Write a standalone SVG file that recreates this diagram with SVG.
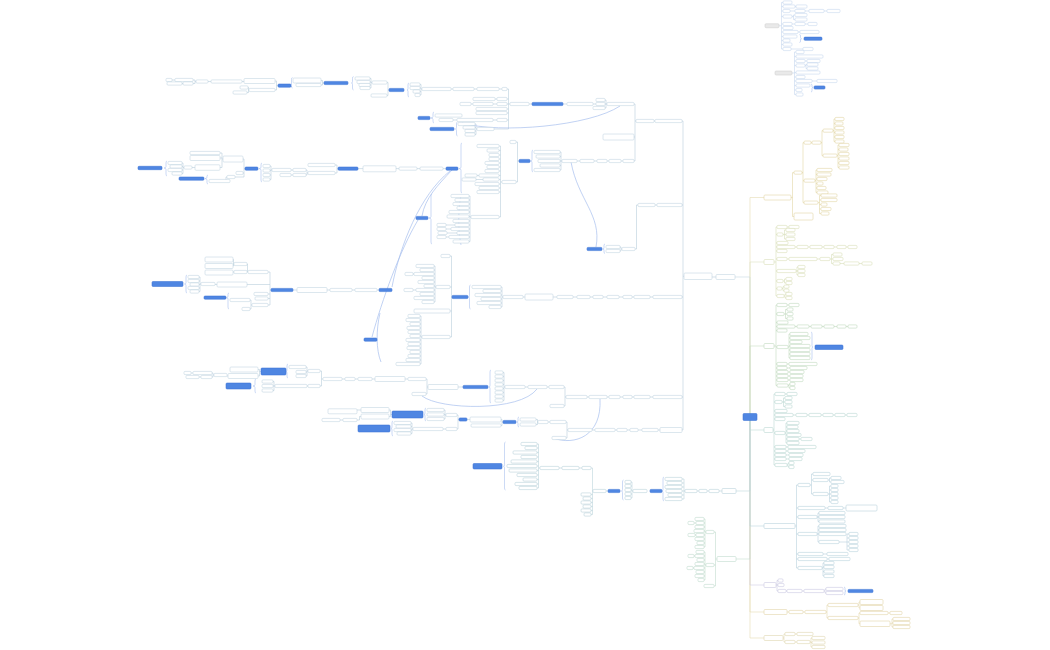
<svg xmlns="http://www.w3.org/2000/svg" width="1050" height="650" viewBox="0 0 1050 650">
<style>
rect{fill:#fff;stroke-width:.55;rx:1px}
rect.b{fill:#4f86e2;stroke:#3d73d4}
rect.g{fill:#e9e9e9;stroke:#cfcfcf}
path{fill:none;stroke-width:.6}
.br path{stroke:#a9c1ee}
.rel path{stroke:#a6bfee;stroke-width:.7}
</style>
<rect x="0" y="0" width="1050" height="650" style="fill:#fff;stroke:none;rx:0"/>
<g id="connectors">
<g id="trunk" stroke-width=".9">
<path stroke="#e6dcb3" d="M750,414V197.5H764"/>
<path stroke="#c6d8e3" d="M750,414V277H735"/>
<path stroke="#dde3c2" d="M750,414V262H764"/>
<path stroke="#c9dfc5" d="M750,414V346H764"/>
<path stroke="#e6dcb3" d="M750,420V638H764"/>
<path stroke="#e6dcb3" d="M750,420V612H764"/>
<path stroke="#d0cee4" d="M750,420V585H764"/>
<path stroke="#c6dfd2" d="M750,420V559H736"/>
<path stroke="#bcd6df" d="M750,420V526H764"/>
<path stroke="#bfd8dc" d="M750,420V491H736"/>
<path stroke="#bfdcd7" d="M750,420V430H764"/>
</g>
<path id="c-a" stroke="#e2d6a6" d="M791,197.5H792.5M792.5,172.6V216.5M792.5,172.6H794M792.5,216.5H794M802,172.6H803M803,142.6V202.6M803,180.6H804M803,142.6H804M803,202.6H804M811,142.6H812M821,142.6H822M822,130.6V155.6M822,130.6H823M822,155.6H823M833,130.6H834M834,119V141.5M834,119H835M834,123.5H835M834,128H835M834,132.5H835M834,137H835M834,141.5H835M837,155.6H838M838,145V167.5M838,145H839M838,149.5H839M838,154H839M838,158.5H839M838,163H839M838,167.5H839M815,180.6H816M816,170V192.5M816,170H817M816,174.5H817M816,179H817M816,183.5H817M816,188H817M816,192.5H817M818,202.6H819.5M819.5,195.5V213.5M819.5,195.5H821M819.5,200H821M819.5,204.5H821M819.5,209H821M819.5,213.5H821"/>
<path id="c-b" stroke="#d9dfbb" d="M774,262H776M776,227V296M776,227H777M776,234.5H777M776,243H777M776,247H777M776,251H777M776,259H777M776,271H777M776,281H777M776,288.5H777M776,296H777M787,227H789M783,234.5H784.5M784.5,230V239M784.5,230H786M784.5,234.5H786M784.5,239H786M795,247H797M808,247H810M822,247H824M834,247H837M846,247H848M787,259H789M817,259H820M830,259H831.5M831.5,254.5V263.5M831.5,254.5H833M831.5,259H833M831.5,263.5H833M840,263.5H844M859,263.5H862M796,271H797M797,267V275M797,267H798M797,271H798M797,275H798M783,281H784.5M784.5,279V283M784.5,279H786M784.5,283H786M782,288.5H783M783,286.6V290.6M783,286.6H784M783,290.6H784M784,296H785M785,294V298M785,294H786M785,298H786"/>
<path id="c-c" stroke="#c2dac0" d="M774,346H776M776,305V385.5M776,305H777M776,314H777M776,322.5H777M776,326.5H777M776,330.5H777M776,347H777M776,364H777M776,368H777M776,372H777M776,376H777M776,380H777M776,385.5H777M787,305H789M784,314H785.5M785.5,309.5V318.5M785.5,309.5H787M785.5,314H787M785.5,318.5H787M795,326.5H797M809,326.5H811M822,326.5H824M834,326.5H837M846,326.5H848M788,347H789M789,334V358M789,334H790M789,338H790M789,342H790M789,346H790M789,350H790M789,354H790M789,358H790M787,364H789M787,368H790M788,372H790M788,376H790M788,380H790M788,385.5H789M789,384V388M789,384H790M789,388H790"/>
<path id="c-d" stroke="#bcd8d3" d="M773,430H774M774,394V465M774,394H775M774,402H775M774,411H775M774,415H775M774,419H775M774,433H775M774,447H775M774,451H775M774,455H775M774,459H775M774,465H775M785,394H787M782,402H783.5M783.5,398V406.5M783.5,398H785M783.5,402H785M783.5,406.5H785M793,415H796M807,415H809M821,415H823M833,415H835M845,415H847M785,433H786M786,423V443M786,423H787M786,427H787M786,431H787M786,435H787M786,439H787M786,443H787M799,439H801M786,447H788M786,451H788M786,455H789M786,459H789M787,465H788M788,463V467M788,463H789M788,467H789"/>
<path id="c-e" stroke="#bcd5dc" d="M722,491H719M709,491H707M699,491H697M685,491H684M684,479V499M684,479H682M684,483H682M684,487H682M684,491H682M684,495H682M684,499H682M633,491H632M632,482V498M632,482H631M632,486H631M632,490H631M632,494H631M632,498H631M608,491H606M593,491H592.5M592.5,468V514.5M592.5,468H591M592.5,494.5H591M592.5,498.5H591M592.5,502.5H591M592.5,506.5H591M592.5,510.5H591M592.5,514.5H591M582,468H579M562,468H559M540,468H538.5M538.5,444V488M538.5,444H537M538.5,448H537M538.5,452.5H537M538.5,457H537M538.5,461.5H537M538.5,466H537M538.5,470.5H537M538.5,475H537M538.5,479.5H537M538.5,484H537M538.5,488H537"/>
<path id="c-f" stroke="#b9d2dd" d="M795,526H796.5M796.5,485V568M796.5,485H798M796.5,508H798M796.5,517H798M796.5,534H798M796.5,554H798M796.5,559H798M796.5,568H798M810,485H811.5M811.5,474V494M811.5,474H813M811.5,480H813M811.5,494H813M828,480H829.5M829.5,478V482M829.5,478H831M829.5,482H831M828,494H829.5M829.5,486V502M829.5,486H831M829.5,490H831M829.5,494H831M829.5,498H831M829.5,502H831M825,508H828M843,508H846M817,517H818M818,513V521.5M818,513H819M818,517H819M818,521.5H819M817,534H818M818,526V542M818,526H819M818,530H819M818,534H819M818,542H819M839,542H847M847,534V550M847,534H849M847,538H849M847,542H849M847,546H849M847,550H849M823,554H827M827,559H829M822,568H823M823,563V576M823,563H824M823,567H824M823,571.5H824M823,576H824"/>
<path id="c-g" stroke="#c3dccf" d="M717,559H715.5M715.5,532V586M715.5,532H714M715.5,565H714M715.5,586H714M706,532H705M705,519V547M705,519H704M705,523H704M705,527H704M705,531H704M705,535H704M705,539H704M705,543H704M705,547H704M706,565H705M705,552V580M705,552H704M705,556H704M705,560H704M705,564H704M705,568H704M705,572H704M705,576H704M705,580H704M696,523H694M696,535H695M695,556H694M694,568H693"/>
<path id="c-h" stroke="#cbc9e1" d="M776,585H777M777,580.5V591M777,580.5H778M777,585H778M777,591H778M786,591H787M802,591H804M824,591H825M825,589V593M825,589H826M825,593H826"/>
<path id="c-i" stroke="#e4d8ae" d="M787,612H789M803,612H805M826,612H827M827,605V618M827,605H828M827,618H828M858,605H859M859,602V608M859,602H860M859,608H860M858,618H859M859,613V623.75M859,613H860M859,623.75H860M888,613H890M890,623.75H892M892,619V627M892,619H893M892,623H893M892,627H893"/>
<path id="c-j" stroke="#e2d9b4" d="M783,638H784M784,634V642M784,634H785M784,642H785M795,634H797M795,642H797M810,642H811M811,638V647M811,638H812M811,642.5H812M811,647H812"/>
<path id="c-tr1" stroke="#c6d6ee" d="M779,25.75H781.5M781.5,2.5V49M781.5,2.5H783M781.5,6.5H783M781.5,11H783M781.5,16.5H783M781.5,24H783M781.5,28H783M781.5,32H783M781.5,36.5H783M781.5,40.5H783M781.5,44.5H783M781.5,49H783M795,6.5H796M790,11H795M805,11H809M824,11H827M792,16.5H793.5M793.5,15V19.5M793.5,15H795M793.5,19.5H795M792,24H795M805,24H808M798,32H800M791,49H803"/>
<path id="c-tr2" stroke="#c6d6ee" d="M792,73H794.5M794.5,52V94.5M794.5,52H796M794.5,56.5H796M794.5,61H796M794.5,65.5H796M794.5,72.5H796M794.5,77H796M794.5,81H796M794.5,85.5H796M794.5,90H796M794.5,94.5H796M805,61H807M805,65.5H806M806,64.5V68.5M806,64.5H807M806,68.5H807M812,81H817"/>
<path id="c-left" stroke="#b9cfdc" d="M716,277H712M684,276.25H683M683,121V430M683,121H682M683,205H682M683,297H682M683,397H682M683,430H682M655,121H654M636,121H635M635,104V161M635,104H634M635,137H634M635,161H634M657,205H655M638,205H636.5M636.5,205V249H635M607,104H606M606,100V108M606,100H605M606,104H605M606,108H605M596,104H593M567,104H563M532,104H529M510,104H508.5M508.5,89V129M508.5,89H507M508.5,99H507M508.5,104H507M508.5,109H507M508.5,113H507M508.5,120H507M508.5,129H494M502,89H499M477,89H474M453,89H451M422,89H421M421,84.5V95M421,84.5H420M421,88H420M421,91.5H420M421,95H420M497,99H495M497,104H493M473,104H471M497,120H493M457,120H453M477,129H476M476,124V134.5M476,124H475M476,127.5H475M476,131H475M476,134.5H475M389,90H388M388,82.5V95.5M388,82.5H387M388,95.5H387M372,82.5H371M371,78.5V88M371,78.5H370M371,82H370M371,85H370M371,88H370M324,83H322.5M322.5,80.5V85M322.5,80.5H321M322.5,85H321M278,85.6H276.5M276.5,81V90M276.5,81H275M276.5,90H275M249,90H248.5M248.5,87.5V92.5M248.5,87.5H248M248.5,92.5H247M244,81.5H242M211,81.5H208M196,81.5H195M195,80V83.5M195,80H193M195,83.5H193M175,80H172M183,83.5H182M623,161H621M609,161H607M597,161H594M580,161H577M562,161H561M561,152V170M561,152H560M561,156.5H560M561,161H560M561,165.5H560M561,170H560M519,161H517.5M517.5,142V182M517.5,142H516M517.5,182H516M502,182H500.5M500.5,146V217M500.5,146H499M500.5,150.5H499M500.5,155H499M500.5,159H499M500.5,163H499M500.5,167H499M500.5,171H499M500.5,175.5H499M500.5,179.5H499M500.5,184H499M500.5,188H499M500.5,192H499M500.5,217H499M479,175.5H477M483,179.5H476M471,217H470M470,196V241.5M470,196H469M470,200H469M470,204H469M470,208H469M470,212H469M470,216.5H469M470,221H469M470,225H469M470,229H469M470,233H469M470,237H469M470,241.5H469M455,225H446M451,229H446M457,233H447M449,237H446M446,168.6H443M420,168.6H417M399,168.6H396M363,168.6H358M338,168.6H337M337,165V173M337,165H335M337,173H335M308,173H307M307,170V175M307,170H306M307,175H306M293,170H291M293,175H291M272,170H271M271,166V179.5M271,166H270M271,170.5H270M271,175H270M271,179.5H270M245,168.6H244M244,159V177M244,159H243M244,173H243M244,177H235M227,177H226V181H230M223,159H222M222,153V167.5M222,153H220M222,158H220M222,167.5H220M195,167.5H192M184,167.5H183M183,163V173.5M183,163H182M183,166.5H182M183,170H182M183,173.5H182M622,249H621M621,247V251M621,247H620M621,251H620M653,297H650M634,297H632M623,297H619M607,297H603M593,297H590M577,297H573M557,297H553M525,297H523M503,297H502M502,287V307M502,287H501M502,291H501M502,295H501M502,299H501M502,303H501M502,307H501M452,297H451.5M451.5,256V337M451.5,256H450M451.5,287H450M451.5,311H450M451.5,337H450M436,287H435M435,266V302M435,266H434M435,270H434M435,274H434M435,278H434M435,282H434M435,286H434M435,290H434M435,294H434M435,298H434M435,302H434M414,274H413M416,290H413M422,337H421M421,316V364M421,316H420M421,320H420M421,324H420M421,328H420M421,332H420M421,336H420M421,340H420M421,344H420M421,348H420M421,352H420M421,356H420M421,360H420M421,364H420M653,397H650M634,397H632M623,397H620M609,397H607M589,397H587M566,397H565M565,387V406M565,387H564M565,406H564M549,387H547M528,387H525M505,387H504M504,372.5V400.5M504,372.5H503M504,376.5H503M504,380.5H503M504,384.5H503M504,388.5H503M504,392.5H503M504,396.5H503M504,400.5H503M463,387H458M428,387H427M427,379V394M427,379H426M427,394H426M408,379H405M375,379H372M358,379H355M345,379H342M323,379H321.5M321.5,371V386M321.5,371H320M321.5,386H320M308,371H307M307,367V376M307,367H306M307,372H306M307,376H306M261,371.5H259.5M259.5,369.5V376M259.5,369.5H258M259.5,376H258M228,376H227M214,375H213M213,373V377M213,373H212M213,377H212M193,373H191M201,377H199M308,386H307M275,386H274M274,381.5V390.5M274,381.5H273M274,386H273M274,390.5H273M660,430H658M642,430H638M630,430H627M617,430H615M595,430H592M568,430H567M567,422V438M567,422H566M567,438H566M550,422H548M538,422H537.5M537.5,419.5V424.5M537.5,419.5H536M537.5,424.5H536M503,422H502M502,419.5V425.5M502,419.5H501M502,425.5H501M470,419.5H467M459,419.5H458M458,415V429M458,415H457M458,429H457M446,415H445M445,410V419M445,410H444M445,414.5H444M445,419H444M392,414.5H390.5M390.5,410V416.5M390.5,410H389M390.5,416.5H389M361,410H357M361,416.5H359.5V420H357M343,420H340M446,429H443M413,429H412M412,423V433.5M412,423H411M412,426.5H411M412,430H411M412,433.5H411M379,290H377M355,290H352M330,290H327M297,290H293M271,290H270M270,272V305M270,272H268M270,284.5H247M270,294H268M270,298.5H268M270,305H268M248,272H247.5M247.5,264V272M247.5,264H247M234,264H233.5M233.5,259.5V266M233.5,259.5H233M233.5,266H233M234,272H233M217,284.5H215M201,284H200M200,277V291.5M200,277H199M200,281H199M200,284.5H199M200,288H199M200,291.5H199M252,305H251M251,300V309M251,300H250M251,309H250"/>
<g class="br">
<path d="M811,332Q812,332 812,334V345.5Q812,347 813,347Q812,347 812,348.5V358Q812,360 811,360"/>
<path d="M844,587Q845,587 845,588.5V590Q845,591 846,591Q845,591 845,592V593.5Q845,595 844,595"/>
<path d="M799.5,34.5Q800.5,34.5 800.5,36V37.5Q800.5,38.7 801.5,38.7Q800.5,38.7 800.5,40V41Q800.5,42.5 799.5,42.5"/>
<path d="M811,84Q812,84 812,85.5V86.5Q812,87.5 813,87.5Q812,87.5 812,88.5V90.5Q812,92 811,92"/>
<path d="M664,477Q663,477 663,479V489.5Q663,491 662,491Q663,491 663,492.5V499Q663,501 664,501"/>
<path d="M623.5,480Q622.5,480 622.5,482V489.5Q622.5,491 621.5,491Q622.5,491 622.5,492.5V498Q622.5,500 623.5,500"/>
<path d="M505.5,442Q504.5,442 504.5,444V464.8Q504.5,466.3 503.5,466.3Q504.5,466.3 504.5,467.8V488Q504.5,490 505.5,490"/>
<path d="M409,83Q408,83 408,85V88.5Q408,90 407,90Q408,90 408,91.5V95Q408,97 409,97"/>
<path d="M353.5,76.5Q352.5,76.5 352.5,78.5V81.5Q352.5,83 351.5,83Q352.5,83 352.5,84.5V88Q352.5,90 353.5,90"/>
<path d="M292.5,77.5Q291.5,77.5 291.5,79.5V84.1Q291.5,85.6 290.5,85.6Q291.5,85.6 291.5,87V86.5Q291.5,88 292.5,88"/>
<path d="M434,112Q433,112 433,114V116.5Q433,118 431,118Q433,118 433,119.5V121Q433,123 434,123"/>
<path d="M457.5,122Q456.5,122 456.5,124V127.5Q456.5,129 455.5,129Q456.5,129 456.5,130.5V134Q456.5,136 457.5,136"/>
<path d="M533,150Q532,150 532,152V159.5Q532,161 530.5,161Q532,161 532,162.5V170Q532,172 533,172"/>
<path d="M462,143Q461,143 461,145V167.1Q461,168.6 459,168.6Q461,168.6 461,170.1V191Q461,193 462,193"/>
<path d="M461,195C458,210 458,230 461,245"/>
<path d="M432,194Q431,194 431,196V216.5Q431,218 429,218Q431,218 431,219.5V242Q431,244 432,244"/>
<path d="M262,163Q261,163 261,165V167.1Q261,168.6 259,168.6Q261,168.6 261,170.1V180Q261,182 262,182"/>
<path d="M167,161Q166,161 166,163V166.5Q166,168 164,168Q166,168 166,169.5V174Q166,176 167,176"/>
<path d="M208,175Q207,175 207,176.5V177.1Q207,178.6 205,178.6Q207,178.6 207,180.1V182.5Q207,184 208,184"/>
<path d="M605,244Q604,244 604,245.5V247.5Q604,249 603,249Q604,249 604,250.5V252Q604,253.5 605,253.5"/>
<path d="M470.5,285Q469.5,285 469.5,287V295.5Q469.5,297 468.5,297Q469.5,297 469.5,298.5V307Q469.5,309 470.5,309"/>
<path d="M187,275Q186,275 186,277V282.5Q186,284 184.5,284Q186,284 186,285.5V291Q186,293 187,293"/>
<path d="M229,293Q228,293 228,294.5V296.1Q228,297.6 226.5,297.6Q228,297.6 228,299.1V307Q228,309 229,309"/>
<path d="M491,370Q490,370 490,372V385.5Q490,387 489,387Q490,387 490,388.5V401Q490,403 491,403"/>
<path d="M288,364Q287,364 287,366V370Q287,371.5 286,371.5Q287,371.5 287,373V376Q287,378 288,378"/>
<path d="M256,379Q255,379 255,381V384.5Q255,386 253,386Q255,386 255,387.5V391Q255,393 256,393"/>
<path d="M519,417Q518,417 518,418.5V420.5Q518,422 517,422Q518,422 518,423.5V425.5Q518,427 519,427"/>
<path d="M426,408Q425,408 425,410V413Q425,414.5 424,414.5Q425,414.5 425,416V419Q425,421 426,421"/>
<path d="M393,421Q392,421 392,423V427Q392,428.5 391,428.5Q392,428.5 392,430V434Q392,436 393,436"/>
</g>
<g class="rel">
<path d="M452,170C438,185 425,198 422,216"/>
<path d="M450,171C420,195 400,245 392,287"/>
<path d="M418,220C400,250 382,300 372,337"/>
<path d="M380,313C376,330 376,350 381,362"/>
<path d="M422,396C440,410 520,412 537,389"/>
<path d="M553,438C575,446 602,436 600,399"/>
<path d="M571,162C578,200 602,215 596,247"/>
<path d="M462,123C500,134 590,126 620,106"/>
</g>
</g>
<g id="node-root"><rect class="b" x="743" y="413.5" width="14" height="7"/></g>
<g id="branch-a" stroke="#e0d3a0">
<rect x="764" y="195" width="27" height="5"/><rect x="794" y="171" width="8" height="3.2"/><rect x="794" y="213" width="19" height="7"/><rect x="804" y="141" width="7" height="3.2"/><rect x="804" y="179" width="11" height="3.2"/><rect x="804" y="201" width="14" height="3.2"/><rect x="812" y="141" width="9" height="3.2"/><rect x="823" y="129" width="10" height="3.2"/><rect x="823" y="154" width="14" height="3.2"/>
<rect x="835" y="117.4" width="9" height="3.2"/><rect x="835" y="121.9" width="8" height="3.2"/><rect x="835" y="126.4" width="9" height="3.2"/><rect x="835" y="130.9" width="9" height="3.2"/><rect x="835" y="135.4" width="9" height="3.2"/><rect x="835" y="139.9" width="9" height="3.2"/>
<rect x="839" y="143.4" width="10" height="3.2"/><rect x="839" y="147.9" width="9" height="3.2"/><rect x="839" y="152.4" width="10" height="3.2"/><rect x="839" y="156.9" width="10" height="3.2"/><rect x="839" y="161.4" width="10" height="3.2"/><rect x="839" y="165.9" width="10" height="3.2"/>
<rect x="817" y="168.4" width="15" height="3.2"/><rect x="817" y="172.9" width="14" height="3.2"/><rect x="817" y="177.4" width="10" height="3.2"/><rect x="817" y="181.9" width="6" height="3.2"/><rect x="817" y="186.4" width="9" height="3.2"/><rect x="817" y="190.9" width="11" height="3.2"/>
<rect x="821" y="193.9" width="16" height="3.2"/><rect x="821" y="198.4" width="16" height="3.2"/><rect x="821" y="202.9" width="6" height="3.2"/><rect x="821" y="207.4" width="10" height="3.2"/><rect x="821" y="211.9" width="8" height="3.2"/>
</g>
<g id="branch-b" stroke="#d6dcb4">
<rect x="764" y="259.5" width="10" height="5"/>
<rect x="777" y="225.4" width="10" height="3.2"/><rect x="789" y="225.4" width="10" height="3.2"/>
<rect x="777" y="232.9" width="6" height="3.2"/><rect x="786" y="228.4" width="9" height="3.2"/><rect x="786" y="232.9" width="9" height="3.2"/><rect x="786" y="237.4" width="9" height="3.2"/>
<rect x="777" y="241.4" width="11" height="3.2"/>
<rect x="777" y="245.4" width="18" height="3.2"/><rect x="797" y="245.4" width="11" height="3.2"/><rect x="810" y="245.4" width="12" height="3.2"/><rect x="824" y="245.4" width="10" height="3.2"/><rect x="837" y="245.4" width="9" height="3.2"/><rect x="848" y="245.4" width="9" height="3.2"/>
<rect x="777" y="249.4" width="10" height="3.2"/>
<rect x="777" y="257.4" width="10" height="3.2"/><rect x="789" y="257.4" width="28" height="3.2"/><rect x="820" y="257.4" width="10" height="3.2"/><rect x="833" y="252.9" width="9" height="3.2"/><rect x="833" y="257.4" width="10" height="3.2"/><rect x="833" y="261.9" width="7" height="3.2"/><rect x="844" y="261.9" width="15" height="3.2"/><rect x="862" y="261.9" width="10" height="3.2"/>
<rect x="777" y="269.4" width="19" height="3.2"/><rect x="798" y="265.4" width="7" height="3.2"/><rect x="798" y="269.4" width="7" height="3.2"/><rect x="798" y="273.4" width="7" height="3.2"/>
<rect x="777" y="279.4" width="6" height="3.2"/><rect x="786" y="277.4" width="6" height="3.2"/><rect x="786" y="281.4" width="6" height="3.2"/>
<rect x="777" y="286.9" width="5" height="3.2"/><rect x="784" y="285" width="5" height="3.2"/><rect x="784" y="289" width="5" height="3.2"/>
<rect x="777" y="294.4" width="7" height="3.2"/><rect x="786" y="292.4" width="6" height="3.2"/><rect x="786" y="296.4" width="6" height="3.2"/>
</g>
<g id="branch-c" stroke="#bcd7ba">
<rect x="764" y="343.5" width="10" height="5"/>
<rect x="777" y="303.4" width="10" height="3.2"/><rect x="789" y="303.4" width="10" height="3.2"/>
<rect x="777" y="312.4" width="7" height="3.2"/><rect x="787" y="307.9" width="6" height="3.2"/><rect x="787" y="312.4" width="6" height="3.2"/><rect x="787" y="316.9" width="6" height="3.2"/>
<rect x="777" y="320.9" width="11" height="3.2"/>
<rect x="777" y="324.9" width="18" height="3.2"/><rect x="797" y="324.9" width="12" height="3.2"/><rect x="811" y="324.9" width="11" height="3.2"/><rect x="824" y="324.9" width="10" height="3.2"/><rect x="837" y="324.9" width="9" height="3.2"/><rect x="848" y="324.9" width="9" height="3.2"/>
<rect x="777" y="328.9" width="10" height="3.2"/>
<rect x="777" y="345.4" width="11" height="3.2"/>
<rect x="790" y="332.4" width="18" height="3.2"/><rect x="790" y="336.4" width="20" height="3.2"/><rect x="790" y="340.4" width="12" height="3.2"/><rect x="790" y="344.4" width="20" height="3.2"/><rect x="790" y="348.4" width="20" height="3.2"/><rect x="790" y="352.4" width="20" height="3.2"/><rect x="790" y="356.4" width="20" height="3.2"/>
<rect class="b" x="815" y="345" width="28" height="4.5"/>
<rect x="777" y="362.4" width="10" height="3.2"/><rect x="789" y="362.4" width="28" height="3.2"/>
<rect x="777" y="366.4" width="10" height="3.2"/><rect x="790" y="366.4" width="17" height="3.2"/>
<rect x="777" y="370.4" width="11" height="3.2"/><rect x="790" y="370.4" width="14" height="3.2"/>
<rect x="777" y="374.4" width="11" height="3.2"/><rect x="790" y="374.4" width="13" height="3.2"/>
<rect x="777" y="378.4" width="11" height="3.2"/><rect x="790" y="378.4" width="13" height="3.2"/>
<rect x="777" y="383.9" width="11" height="3.2"/><rect x="790" y="382.4" width="5" height="3.2"/><rect x="790" y="386.4" width="5" height="3.2"/>
</g>
<g id="branch-d" stroke="#b5d5d0">
<rect x="764" y="427.5" width="9" height="5"/>
<rect x="775" y="392.4" width="10" height="3.2"/><rect x="787" y="392.4" width="10" height="3.2"/>
<rect x="775" y="400.4" width="7" height="3.2"/><rect x="785" y="396.4" width="7" height="3.2"/><rect x="785" y="400.4" width="7" height="3.2"/><rect x="785" y="404.9" width="7" height="3.2"/>
<rect x="775" y="409.4" width="12" height="3.2"/>
<rect x="775" y="413.4" width="18" height="3.2"/><rect x="796" y="413.4" width="11" height="3.2"/><rect x="809" y="413.4" width="12" height="3.2"/><rect x="823" y="413.4" width="10" height="3.2"/><rect x="835" y="413.4" width="10" height="3.2"/><rect x="847" y="413.4" width="10" height="3.2"/>
<rect x="775" y="417.4" width="10" height="3.2"/>
<rect x="775" y="431.4" width="10" height="3.2"/>
<rect x="787" y="421.4" width="12" height="3.2"/><rect x="787" y="425.4" width="11" height="3.2"/><rect x="787" y="429.4" width="12" height="3.2"/><rect x="787" y="433.4" width="14" height="3.2"/><rect x="787" y="437.4" width="12" height="3.2"/><rect x="787" y="441.4" width="12" height="3.2"/><rect x="801" y="437.4" width="11" height="3.2"/>
<rect x="775" y="445.4" width="11" height="3.2"/><rect x="788" y="445.4" width="28" height="3.2"/>
<rect x="775" y="449.4" width="11" height="3.2"/><rect x="788" y="449.4" width="17" height="3.2"/>
<rect x="775" y="453.4" width="11" height="3.2"/><rect x="789" y="453.4" width="14" height="3.2"/>
<rect x="775" y="457.4" width="11" height="3.2"/><rect x="789" y="457.4" width="13" height="3.2"/>
<rect x="775" y="463.4" width="12" height="3.2"/><rect x="789" y="461.4" width="5" height="3.2"/><rect x="789" y="465.4" width="5" height="3.2"/>
</g>
<g id="branch-e" stroke="#b5d0d8">
<rect x="722" y="488.5" width="14" height="5"/><rect x="709" y="489.4" width="10" height="3.2"/><rect x="699" y="489.4" width="8" height="3.2"/><rect x="685" y="489.4" width="12" height="3.2"/>
<rect x="665" y="477.4" width="17" height="3.2"/><rect x="667" y="481.4" width="15" height="3.2"/><rect x="665" y="485.4" width="17" height="3.2"/><rect x="666" y="489.4" width="16" height="3.2"/><rect x="668" y="493.4" width="14" height="3.2"/><rect x="665" y="497.4" width="17" height="3.2"/>
<rect class="b" x="650" y="489.4" width="12" height="3.2"/>
<rect x="633" y="489.4" width="14" height="3.2"/>
<rect x="625" y="480.4" width="6" height="3.2"/><rect x="625" y="484.4" width="6" height="3.2"/><rect x="625" y="488.4" width="6" height="3.2"/><rect x="625" y="492.4" width="6" height="3.2"/><rect x="625" y="496.4" width="6" height="3.2"/>
<rect class="b" x="608" y="489.4" width="12" height="3.2"/>
<rect x="593" y="489.4" width="13" height="3.2"/><rect x="582" y="466.4" width="9" height="3.2"/>
<rect x="581" y="492.9" width="10" height="3.2"/><rect x="583" y="496.9" width="8" height="3.2"/><rect x="581" y="500.9" width="10" height="3.2"/><rect x="583" y="504.9" width="8" height="3.2"/><rect x="581" y="508.9" width="10" height="3.2"/><rect x="584" y="512.9" width="7" height="3.2"/>
<rect x="562" y="466.4" width="17" height="3.2"/><rect x="540" y="466.4" width="19" height="3.2"/>
<rect x="521" y="442.4" width="16" height="3.2"/><rect x="525" y="446.4" width="12" height="3.2"/><rect x="513" y="450.9" width="24" height="3.2"/><rect x="521" y="455.4" width="16" height="3.2"/><rect x="511" y="459.9" width="26" height="3.2"/><rect x="507" y="464.4" width="30" height="3.2"/><rect x="509" y="468.9" width="28" height="3.2"/><rect x="517" y="473.4" width="20" height="3.2"/><rect x="523" y="477.9" width="14" height="3.2"/><rect x="515" y="482.4" width="22" height="3.2"/><rect x="519" y="486.4" width="18" height="3.2"/>
<rect class="b" x="473" y="463.5" width="29" height="5.5"/>
</g>
<g id="branch-f" stroke="#b3cfdb">
<rect x="764" y="523.5" width="31" height="5"/>
<rect x="798" y="483.4" width="12" height="3.2"/><rect x="813" y="472.4" width="17" height="3.2"/><rect x="813" y="478.4" width="15" height="3.2"/><rect x="813" y="492.4" width="15" height="3.2"/><rect x="831" y="476.4" width="10" height="3.2"/><rect x="831" y="480.4" width="13" height="3.2"/>
<rect x="831" y="484.4" width="7" height="3.2"/><rect x="831" y="488.4" width="7" height="3.2"/><rect x="831" y="492.4" width="7" height="3.2"/><rect x="831" y="496.4" width="7" height="3.2"/><rect x="831" y="500.4" width="7" height="3.2"/>
<rect x="798" y="506.4" width="27" height="3.2"/><rect x="828" y="506.4" width="15" height="3.2"/><rect x="846" y="505" width="31" height="6"/>
<rect x="798" y="515.4" width="19" height="3.2"/><rect x="819" y="511.4" width="26" height="3.2"/><rect x="819" y="515.4" width="26" height="3.2"/><rect x="819" y="519.9" width="26" height="3.2"/>
<rect x="798" y="532.4" width="19" height="3.2"/><rect x="819" y="524.4" width="27" height="3.2"/><rect x="819" y="528.4" width="27" height="3.2"/><rect x="819" y="532.4" width="27" height="3.2"/><rect x="819" y="540.4" width="20" height="3.2"/>
<rect x="849" y="532.4" width="9" height="3.2"/><rect x="849" y="536.4" width="9" height="3.2"/><rect x="849" y="540.4" width="9" height="3.2"/><rect x="849" y="544.4" width="9" height="3.2"/><rect x="849" y="548.4" width="9" height="3.2"/>
<rect x="798" y="552.4" width="25" height="3.2"/><rect x="827" y="552.4" width="21" height="3.2"/>
<rect x="798" y="557.4" width="29" height="3.2"/><rect x="829" y="557.4" width="21" height="3.2"/>
<rect x="798" y="566.4" width="24" height="3.2"/><rect x="824" y="561.4" width="10" height="3.2"/><rect x="824" y="565.4" width="10" height="3.2"/><rect x="824" y="569.9" width="10" height="3.2"/><rect x="824" y="574.4" width="10" height="3.2"/>
</g>
<g id="branch-g" stroke="#bcd8ca">
<rect x="717" y="556.5" width="19" height="5"/><rect x="706" y="530.4" width="8" height="3.2"/><rect x="706" y="563.4" width="8" height="3.2"/><rect x="704" y="584.4" width="10" height="3.2"/>
<rect x="695" y="517.4" width="9" height="3.2"/><rect x="696" y="521.4" width="8" height="3.2"/><rect x="695" y="525.4" width="9" height="3.2"/><rect x="694" y="529.4" width="10" height="3.2"/><rect x="696" y="533.4" width="8" height="3.2"/><rect x="695" y="537.4" width="9" height="3.2"/><rect x="697" y="541.4" width="7" height="3.2"/><rect x="695" y="545.4" width="9" height="3.2"/>
<rect x="696" y="550.4" width="8" height="3.2"/><rect x="695" y="554.4" width="9" height="3.2"/><rect x="697" y="558.4" width="7" height="3.2"/><rect x="695" y="562.4" width="9" height="3.2"/><rect x="694" y="566.4" width="10" height="3.2"/><rect x="696" y="570.4" width="8" height="3.2"/><rect x="695" y="574.4" width="9" height="3.2"/><rect x="698" y="578.4" width="6" height="3.2"/>
<rect x="688" y="521.4" width="6" height="3.2"/><rect x="688" y="533.4" width="7" height="3.2"/><rect x="688" y="554.4" width="6" height="3.2"/><rect x="687" y="566.4" width="6" height="3.2"/>
</g>
<g id="branch-h" stroke="#c6c4df">
<rect x="764" y="582.5" width="12" height="5"/><rect x="778" y="578.9" width="5" height="3.2"/><rect x="778" y="583.4" width="6" height="3.2"/><rect x="778" y="589.4" width="8" height="3.2"/><rect x="787" y="589.4" width="15" height="3.2"/><rect x="804" y="589.4" width="20" height="3.2"/><rect x="826" y="587.4" width="17" height="3.2"/><rect x="826" y="591.4" width="17" height="3.2"/>
<rect class="b" x="848" y="589.4" width="25" height="3.2"/>
</g>
<g id="branch-i" stroke="#e0d2a2">
<rect x="764" y="609.5" width="23" height="5"/><rect x="789" y="610.4" width="14" height="3.2"/><rect x="805" y="610.4" width="21" height="3.2"/><rect x="828" y="603.4" width="30" height="3.2"/><rect x="828" y="616.4" width="30" height="3.2"/><rect x="860" y="599.5" width="23" height="5"/><rect x="860" y="605.5" width="23" height="5"/><rect x="860" y="611.4" width="28" height="3.2"/><rect x="860" y="621" width="30" height="5.5"/><rect x="890" y="611.4" width="12" height="3.2"/><rect x="893" y="617.4" width="17" height="3.2"/><rect x="893" y="621.4" width="17" height="3.2"/><rect x="893" y="625.4" width="17" height="3.2"/>
</g>
<g id="branch-j" stroke="#ddd3a8">
<rect x="764" y="635.5" width="19" height="5"/><rect x="785" y="632.4" width="10" height="3.2"/><rect x="785" y="640.4" width="10" height="3.2"/><rect x="797" y="632.4" width="16" height="3.2"/><rect x="797" y="640.4" width="13" height="3.2"/><rect x="812" y="636.4" width="13" height="3.2"/><rect x="812" y="640.9" width="13" height="3.2"/><rect x="812" y="645.4" width="13" height="3.2"/>
</g>
<g id="float-1" stroke="#c3d4ed">
<rect class="g" x="765" y="23.75" width="14" height="4"/>
<rect x="783" y="0.9" width="9" height="3.2"/><rect x="783" y="4.9" width="12" height="3.2"/><rect x="796" y="4.9" width="11" height="3.2"/><rect x="783" y="9.4" width="7" height="3.2"/><rect x="795" y="9.4" width="10" height="3.2"/><rect x="809" y="9.4" width="15" height="3.2"/><rect x="827" y="9.4" width="13" height="3.2"/><rect x="783" y="14.9" width="9" height="3.2"/><rect x="795" y="13.4" width="12" height="3.2"/><rect x="795" y="17.9" width="12" height="3.2"/><rect x="783" y="22.4" width="9" height="3.2"/><rect x="795" y="22.4" width="10" height="3.2"/><rect x="808" y="22.4" width="9" height="3.2"/><rect x="783" y="26.4" width="10" height="3.2"/><rect x="783" y="30.4" width="15" height="3.2"/><rect x="800" y="30.4" width="19" height="3.2"/><rect x="783" y="34.9" width="14" height="3.2"/><rect x="783" y="38.9" width="7" height="3.2"/><rect x="783" y="42.9" width="9" height="3.2"/><rect x="783" y="47.4" width="8" height="3.2"/><rect x="803" y="47.4" width="10" height="3.2"/>
<rect class="b" x="804" y="37.1" width="18" height="3.2"/>
</g>
<g id="float-2" stroke="#c3d4ed">
<rect class="g" x="775" y="71" width="17" height="4"/>
<rect x="796" y="50.4" width="8" height="3.2"/><rect x="796" y="54.9" width="27" height="3.2"/><rect x="796" y="59.4" width="9" height="3.2"/><rect x="807" y="59.4" width="13" height="3.2"/><rect x="796" y="63.9" width="9" height="3.2"/><rect x="807" y="62.9" width="11" height="3.2"/><rect x="807" y="66.9" width="11" height="3.2"/><rect x="796" y="70.9" width="24" height="3.2"/><rect x="796" y="75.4" width="9" height="3.2"/><rect x="796" y="79.4" width="16" height="3.2"/><rect x="817" y="79.4" width="20" height="3.2"/><rect x="796" y="83.9" width="14" height="3.2"/><rect x="796" y="88.4" width="6" height="3.2"/><rect x="796" y="92.9" width="7" height="3.2"/>
<rect class="b" x="814" y="85.9" width="11" height="3.2"/>
</g>
<g id="branch-left" stroke="#bfd3e0">
<rect x="716" y="274.5" width="19" height="5"/><rect x="684" y="273" width="28" height="6.5"/>
<rect x="655" y="119.4" width="27" height="3.2"/><rect x="657" y="203.4" width="25" height="3.2"/><rect x="653" y="295.4" width="29" height="3.2"/><rect x="653" y="395.4" width="29" height="3.2"/><rect x="660" y="427.5" width="22" height="5"/>
<rect x="636" y="119.4" width="18" height="3.2"/><rect x="607" y="102.4" width="27" height="3.2"/><rect x="603" y="134" width="31" height="6"/><rect x="623" y="159.4" width="11" height="3.2"/>
<rect x="596" y="98.4" width="9" height="3.2"/><rect x="596" y="102.4" width="9" height="3.2"/><rect x="593" y="106.4" width="12" height="3.2"/><rect x="567" y="102.4" width="26" height="3.2"/>
<rect class="b" x="532" y="102.4" width="31" height="3.2"/>
<rect x="510" y="102.4" width="19" height="3.2"/>
<rect x="502" y="87.4" width="5" height="3.2"/><rect x="477" y="87.4" width="22" height="3.2"/><rect x="453" y="87.4" width="21" height="3.2"/><rect x="422" y="87.4" width="29" height="3.2"/>
<rect x="410" y="82.9" width="10" height="3.2"/><rect x="410" y="86.4" width="10" height="3.2"/><rect x="413" y="89.9" width="7" height="3.2"/><rect x="415" y="93.4" width="5" height="3.2"/>
<rect class="b" x="389" y="88.4" width="15" height="3.2"/>
<rect x="372" y="80.9" width="15" height="3.2"/><rect x="371" y="93.9" width="16" height="3.2"/>
<rect x="355" y="76.9" width="15" height="3.2"/><rect x="357" y="80.4" width="13" height="3.2"/><rect x="359" y="83.4" width="11" height="3.2"/><rect x="360" y="86.4" width="10" height="3.2"/>
<rect class="b" x="324" y="81.4" width="24" height="3.2"/>
<rect x="293" y="78" width="28" height="5"/><rect x="296" y="83.4" width="25" height="3.2"/>
<rect class="b" x="278" y="84" width="13" height="3.2"/>
<rect x="244" y="78.5" width="31" height="5"/><rect x="249" y="88.4" width="26" height="3.2"/><rect x="240" y="85.9" width="8" height="3.2"/><rect x="233" y="90.9" width="14" height="3.2"/>
<rect x="211" y="79.9" width="31" height="3.2"/><rect x="196" y="79.9" width="12" height="3.2"/><rect x="175" y="78.4" width="18" height="3.2"/><rect x="183" y="81.9" width="10" height="3.2"/><rect x="166" y="78.4" width="6" height="3.2"/><rect x="167" y="81.9" width="15" height="3.2"/>
<rect x="497" y="97.4" width="10" height="3.2"/><rect x="473" y="97.4" width="22" height="3.2"/>
<rect x="497" y="102.4" width="10" height="3.2"/><rect x="473" y="102.4" width="20" height="3.2"/><rect x="460" y="102.4" width="11" height="3.2"/>
<rect x="476" y="107.4" width="31" height="3.2"/><rect x="476" y="111.4" width="31" height="3.2"/>
<rect x="497" y="118.4" width="10" height="3.2"/><rect x="457" y="118.4" width="36" height="3.2"/><rect x="439" y="118.4" width="14" height="3.2"/><rect x="435" y="113.9" width="27" height="3.2"/>
<rect class="b" x="418" y="116.4" width="12" height="3.2"/>
<rect x="477" y="127.4" width="17" height="3.2"/>
<rect x="458" y="122.4" width="17" height="3.2"/><rect x="463" y="125.9" width="12" height="3.2"/><rect x="465" y="129.4" width="10" height="3.2"/><rect x="465" y="132.9" width="10" height="3.2"/>
<rect class="b" x="430" y="127.4" width="24" height="3.2"/>
<rect x="609" y="159.4" width="12" height="3.2"/><rect x="597" y="159.4" width="10" height="3.2"/><rect x="580" y="159.4" width="14" height="3.2"/><rect x="562" y="159.4" width="15" height="3.2"/>
<rect x="534" y="150.4" width="26" height="3.2"/><rect x="536" y="154.9" width="24" height="3.2"/><rect x="538" y="159.4" width="22" height="3.2"/><rect x="540" y="163.9" width="20" height="3.2"/><rect x="534" y="168.4" width="26" height="3.2"/>
<rect class="b" x="519" y="159.4" width="11" height="3.2"/>
<rect x="510" y="140.4" width="6" height="3.2"/><rect x="502" y="180.4" width="14" height="3.2"/>
<rect x="477" y="144.4" width="22" height="3.2"/><rect x="487" y="148.9" width="12" height="3.2"/><rect x="489" y="153.4" width="10" height="3.2"/><rect x="489" y="157.4" width="10" height="3.2"/><rect x="485" y="161.4" width="14" height="3.2"/><rect x="487" y="165.4" width="12" height="3.2"/><rect x="485" y="169.4" width="14" height="3.2"/><rect x="479" y="173.9" width="20" height="3.2"/><rect x="483" y="177.9" width="16" height="3.2"/><rect x="475" y="182.4" width="24" height="3.2"/><rect x="479" y="186.4" width="20" height="3.2"/><rect x="477" y="190.4" width="22" height="3.2"/>
<rect x="465" y="173.9" width="12" height="3.2"/><rect x="462" y="177.9" width="14" height="3.2"/>
<rect x="471" y="215.4" width="28" height="3.2"/>
<rect x="451" y="194.4" width="18" height="3.2"/><rect x="455" y="198.4" width="14" height="3.2"/><rect x="453" y="202.4" width="16" height="3.2"/><rect x="457" y="206.4" width="12" height="3.2"/><rect x="449" y="210.4" width="20" height="3.2"/><rect x="447" y="214.9" width="22" height="3.2"/><rect x="453" y="219.4" width="16" height="3.2"/><rect x="455" y="223.4" width="14" height="3.2"/><rect x="451" y="227.4" width="18" height="3.2"/><rect x="457" y="231.4" width="12" height="3.2"/><rect x="449" y="235.4" width="20" height="3.2"/><rect x="453" y="239.9" width="16" height="3.2"/>
<rect x="437" y="223.4" width="9" height="3.2"/><rect x="437" y="227.4" width="9" height="3.2"/><rect x="438" y="231.4" width="9" height="3.2"/><rect x="437" y="235.4" width="9" height="3.2"/>
<rect class="b" x="416" y="216.4" width="12" height="3.2"/>
<rect class="b" x="446" y="167" width="12" height="3.2"/>
<rect x="420" y="167" width="23" height="3.2"/><rect x="399" y="167" width="18" height="3.2"/><rect x="363" y="165.8" width="33" height="6"/>
<rect class="b" x="338" y="167" width="20" height="3.2"/>
<rect x="308" y="163.4" width="27" height="3.2"/><rect x="308" y="171.4" width="27" height="3.2"/><rect x="293" y="168.4" width="13" height="3.2"/><rect x="293" y="173.4" width="13" height="3.2"/><rect x="272" y="168.4" width="19" height="3.2"/><rect x="280" y="173.4" width="11" height="3.2"/>
<rect x="263" y="164.4" width="7" height="3.2"/><rect x="263" y="168.9" width="7" height="3.2"/><rect x="263" y="173.4" width="7" height="3.2"/><rect x="263" y="177.9" width="7" height="3.2"/>
<rect class="b" x="245" y="167" width="13" height="3.2"/>
<rect x="223" y="156" width="20" height="6"/><rect x="236" y="171.4" width="7" height="3.2"/><rect x="227" y="175.4" width="8" height="3.2"/><rect x="209" y="179.4" width="21" height="3.2"/>
<rect x="190" y="151.4" width="30" height="3.2"/><rect x="190" y="155.5" width="30" height="5"/><rect x="195" y="164.8" width="25" height="5.5"/><rect x="184" y="165.9" width="8" height="3.2"/>
<rect x="168" y="161.4" width="14" height="3.2"/><rect x="170" y="164.9" width="12" height="3.2"/><rect x="168" y="168.4" width="14" height="3.2"/><rect x="172" y="171.9" width="10" height="3.2"/>
<rect class="b" x="138" y="166.3" width="24" height="3.4"/><rect class="b" x="179" y="177" width="25" height="3.2"/>
<rect x="638" y="203.4" width="17" height="3.2"/><rect x="622" y="247.4" width="13" height="3.2"/><rect x="606" y="245.4" width="14" height="3.2"/><rect x="606" y="249.4" width="14" height="3.2"/>
<rect class="b" x="587" y="247.4" width="15" height="3.2"/>
<rect x="634" y="295.4" width="16" height="3.2"/><rect x="623" y="295.4" width="9" height="3.2"/><rect x="607" y="295.4" width="12" height="3.2"/><rect x="593" y="295.4" width="10" height="3.2"/><rect x="577" y="295.4" width="13" height="3.2"/><rect x="557" y="295.4" width="16" height="3.2"/><rect x="525" y="294" width="28" height="6"/><rect x="503" y="295.4" width="20" height="3.2"/>
<rect x="472" y="285.4" width="29" height="3.2"/><rect x="483" y="289.4" width="18" height="3.2"/><rect x="475" y="293.4" width="26" height="3.2"/><rect x="481" y="297.4" width="20" height="3.2"/><rect x="477" y="301.4" width="24" height="3.2"/><rect x="489" y="305.4" width="12" height="3.2"/>
<rect class="b" x="452" y="295.4" width="16" height="3.2"/>
<rect x="441" y="254.4" width="9" height="3.2"/><rect x="436" y="285.4" width="14" height="3.2"/><rect x="414" y="309" width="36" height="4"/><rect x="422" y="335.4" width="28" height="3.2"/>
<rect x="416" y="264.4" width="18" height="3.2"/><rect x="420" y="268.4" width="14" height="3.2"/><rect x="414" y="272.4" width="20" height="3.2"/><rect x="422" y="276.4" width="12" height="3.2"/><rect x="418" y="280.4" width="16" height="3.2"/><rect x="424" y="284.4" width="10" height="3.2"/><rect x="416" y="288.4" width="18" height="3.2"/><rect x="420" y="292.4" width="14" height="3.2"/><rect x="414" y="296.4" width="20" height="3.2"/><rect x="422" y="300.4" width="12" height="3.2"/>
<rect x="405" y="272.4" width="8" height="3.2"/><rect x="404" y="288.4" width="9" height="3.2"/>
<rect x="408" y="314.4" width="12" height="3.2"/><rect x="406" y="318.4" width="14" height="3.2"/><rect x="410" y="322.4" width="10" height="3.2"/><rect x="407" y="326.4" width="13" height="3.2"/><rect x="408" y="330.4" width="12" height="3.2"/><rect x="410" y="334.4" width="10" height="3.2"/><rect x="406" y="338.4" width="14" height="3.2"/><rect x="408" y="342.4" width="12" height="3.2"/><rect x="407" y="346.4" width="13" height="3.2"/><rect x="410" y="350.4" width="10" height="3.2"/><rect x="408" y="354.4" width="12" height="3.2"/><rect x="406" y="358.4" width="14" height="3.2"/><rect x="396" y="362.4" width="24" height="3.2"/>
<rect class="b" x="364" y="338" width="13" height="3.2"/>
<rect x="634" y="395.4" width="16" height="3.2"/><rect x="623" y="395.4" width="9" height="3.2"/><rect x="609" y="395.4" width="11" height="3.2"/><rect x="589" y="395.4" width="18" height="3.2"/><rect x="566" y="395.4" width="21" height="3.2"/><rect x="549" y="385.4" width="15" height="3.2"/><rect x="550" y="404.4" width="14" height="3.2"/><rect x="528" y="385.4" width="19" height="3.2"/><rect x="505" y="385.4" width="20" height="3.2"/>
<rect x="495" y="370.9" width="8" height="3.2"/><rect x="495" y="374.9" width="8" height="3.2"/><rect x="495" y="378.9" width="8" height="3.2"/><rect x="495" y="382.9" width="8" height="3.2"/><rect x="495" y="386.9" width="8" height="3.2"/><rect x="495" y="390.9" width="8" height="3.2"/><rect x="495" y="394.9" width="8" height="3.2"/><rect x="495" y="398.9" width="8" height="3.2"/>
<rect class="b" x="463" y="385.4" width="25" height="3.2"/>
<rect x="428" y="384.5" width="30" height="5"/><rect x="408" y="377.4" width="18" height="3.2"/><rect x="412" y="392.4" width="14" height="3.2"/><rect x="375" y="376.5" width="30" height="5"/><rect x="358" y="377.4" width="14" height="3.2"/><rect x="345" y="377.4" width="10" height="3.2"/><rect x="323" y="377.4" width="19" height="3.2"/>
<rect x="308" y="369.4" width="12" height="3.2"/><rect x="308" y="384.4" width="12" height="3.2"/><rect x="289" y="365.4" width="17" height="3.2"/><rect x="296" y="370.4" width="10" height="3.2"/><rect x="296" y="374.4" width="10" height="3.2"/>
<rect class="b" x="261" y="368" width="25" height="7"/>
<rect x="230" y="367" width="28" height="5"/><rect x="228" y="373.5" width="30" height="5"/><rect x="214" y="373.4" width="13" height="3.2"/><rect x="193" y="371.4" width="19" height="3.2"/><rect x="201" y="375.4" width="11" height="3.2"/><rect x="184" y="371.4" width="7" height="3.2"/><rect x="186" y="375.4" width="13" height="3.2"/>
<rect x="275" y="384.4" width="32" height="3.2"/><rect x="262" y="379.9" width="11" height="3.2"/><rect x="262" y="384.4" width="11" height="3.2"/><rect x="262" y="388.9" width="11" height="3.2"/>
<rect class="b" x="226" y="383" width="25" height="6"/>
<rect x="642" y="428.4" width="16" height="3.2"/><rect x="630" y="428.4" width="8" height="3.2"/><rect x="617" y="428.4" width="10" height="3.2"/><rect x="595" y="428.4" width="20" height="3.2"/><rect x="568" y="428.4" width="24" height="3.2"/><rect x="550" y="420.4" width="16" height="3.2"/><rect x="552" y="436.4" width="14" height="3.2"/><rect x="538" y="420.4" width="10" height="3.2"/>
<rect x="520" y="417.9" width="16" height="3.2"/><rect x="520" y="422.9" width="16" height="3.2"/>
<rect class="b" x="503" y="420.4" width="13" height="3.2"/>
<rect x="470" y="417" width="31" height="5"/><rect x="471" y="423.9" width="30" height="3.2"/>
<rect class="b" x="459" y="417.9" width="8" height="3.2"/>
<rect x="446" y="413.4" width="11" height="3.2"/><rect x="446" y="427.4" width="11" height="3.2"/>
<rect x="427" y="408.4" width="17" height="3.2"/><rect x="427" y="412.9" width="17" height="3.2"/><rect x="427" y="417.4" width="17" height="3.2"/>
<rect class="b" x="392" y="411" width="31" height="7"/>
<rect x="361" y="407.5" width="28" height="5"/><rect x="361" y="414" width="28" height="5"/><rect x="328" y="408.8" width="29" height="5"/><rect x="343" y="418.4" width="14" height="3.2"/><rect x="322" y="418.4" width="18" height="3.2"/>
<rect x="413" y="427.4" width="30" height="3.2"/><rect x="394" y="421.4" width="17" height="3.2"/><rect x="396" y="424.9" width="15" height="3.2"/><rect x="394" y="428.4" width="17" height="3.2"/><rect x="397" y="431.9" width="14" height="3.2"/>
<rect class="b" x="358" y="425" width="32" height="7"/>
<rect class="b" x="379" y="288.4" width="13" height="3.2"/>
<rect x="355" y="288.4" width="22" height="3.2"/><rect x="330" y="288.4" width="22" height="3.2"/><rect x="297" y="287.5" width="30" height="5"/>
<rect class="b" x="271" y="288.4" width="22" height="3.2"/>
<rect x="248" y="270.4" width="20" height="3.2"/><rect x="217" y="282" width="30" height="5"/><rect x="254" y="292.4" width="14" height="3.2"/><rect x="255" y="296.9" width="13" height="3.2"/><rect x="252" y="303.4" width="16" height="3.2"/>
<rect x="234" y="262.4" width="13" height="3.2"/><rect x="234" y="270.4" width="13" height="3.2"/><rect x="205" y="257" width="28" height="5"/><rect x="205" y="263.5" width="28" height="5"/><rect x="205" y="270" width="28" height="5"/>
<rect x="201" y="282.4" width="14" height="3.2"/>
<rect x="188" y="275.4" width="11" height="3.2"/><rect x="188" y="279.4" width="11" height="3.2"/><rect x="190" y="282.9" width="9" height="3.2"/><rect x="188" y="286.4" width="11" height="3.2"/><rect x="190" y="289.9" width="9" height="3.2"/>
<rect class="b" x="152" y="281.5" width="31" height="5"/>
<rect x="230" y="298.4" width="20" height="3.2"/><rect x="242" y="307.4" width="8" height="3.2"/>
<rect class="b" x="204" y="296" width="22" height="3.2"/>
</g>
</svg>
